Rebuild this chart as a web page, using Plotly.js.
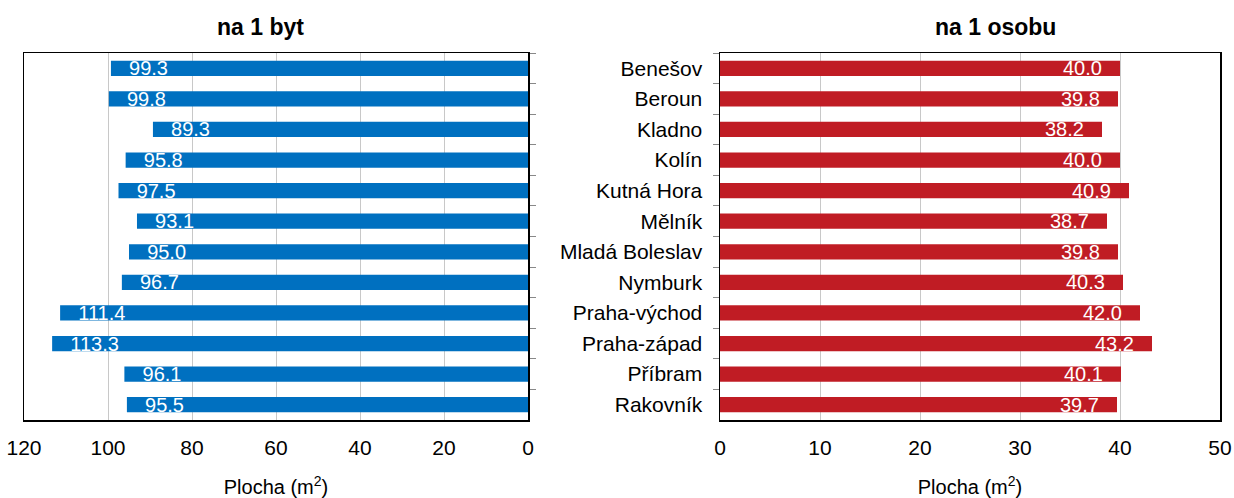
<!DOCTYPE html>
<html><head><meta charset="utf-8">
<script src="https://cdn.plot.ly/plotly-3.0.1.min.js"></script>
<style>body{margin:0;background:#fff}#c{width:1234px;height:498px}</style>
</head><body><div id="c"></div>
<script>
const districts = ["Benešov","Beroun","Kladno","Kolín","Kutná Hora","Mělník","Mladá Boleslav","Nymburk","Praha-východ","Praha-západ","Příbram","Rakovník"];
const perFlat = [99.3,99.8,89.3,95.8,97.5,93.1,95.0,96.7,111.4,113.3,96.1,95.5];
const perPerson = [40.0,39.8,38.2,40.0,40.9,38.7,39.8,40.3,42.0,43.2,40.1,39.7];
const titleLeft = "na 1 byt";
const titleRight = "na 1 osobu";
const axisTitle = "Plocha (m<sup>2</sup>)";

const font = "Liberation Sans, Arial, sans-serif";
const pad = "\u00a0\u00a0\u2009";
const traces = [
  {type:"bar", orientation:"h", y:districts, x:perFlat, xaxis:"x", yaxis:"y",
   marker:{color:"#0070C0"}, width:0.5,
   text:perFlat.map(v=>pad+v.toFixed(1)), textposition:"inside", insidetextanchor:"end",
   textfont:{color:"#fff", size:20, family:font}, constraintext:"none", hoverinfo:"x+y"},
  {type:"bar", orientation:"h", y:districts, x:perPerson, xaxis:"x2", yaxis:"y2",
   marker:{color:"#C01C24"}, width:0.5,
   text:perPerson.map(v=>v.toFixed(1)+pad), textposition:"inside", insidetextanchor:"end",
   textfont:{color:"#fff", size:20, family:font}, constraintext:"none", hoverinfo:"x+y"}
];
const common = {showgrid:true, gridcolor:"#c8c8c8", gridwidth:1, zeroline:false,
  showline:true, linecolor:"#000", linewidth:1.5, mirror:true, ticks:"", ticklabelstandoff:8,
  tickfont:{size:21, color:"#000", family:font}};
const layout = {
  width:1234, height:498, paper_bgcolor:"#fff", plot_bgcolor:"#fff",
  margin:{l:0, r:0, t:53, b:78}, showlegend:false, bargap:0.5,
  font:{family:font, color:"#000"},
  xaxis:Object.assign({}, common, {domain:[24/1234, 528/1234], range:[120,0], dtick:20,
     title:{text:axisTitle, font:{size:20, family:font}, standoff:22}, anchor:"y"}),
  yaxis:{domain:[0,1], side:"right", anchor:"x", type:"category", autorange:"reversed",
     showticklabels:false, ticks:"outside", tickson:"boundaries", ticklen:6, tickcolor:"#888",
     showline:true, linecolor:"#000", linewidth:1.5, mirror:true, showgrid:false},
  xaxis2:Object.assign({}, common, {domain:[720/1234, 1220/1234], range:[0,50], dtick:10,
     title:{text:axisTitle, font:{size:20, family:font}, standoff:22}, anchor:"y2"}),
  yaxis2:{domain:[0,1], anchor:"x2", type:"category", autorange:"reversed",
     ticks:"outside", tickson:"boundaries", ticklen:6, tickcolor:"#888",
     tickfont:{size:21, color:"#000", family:font}, ticklabelstandoff:12,
     showline:true, linecolor:"#000", linewidth:1.5, mirror:true, showgrid:false},
  annotations:[
    {text:"<b>"+titleLeft+"</b>", xref:"paper", yref:"paper", x:260/1234, xanchor:"center", y:1, yshift:26,
     showarrow:false, font:{size:23, family:font}, yanchor:"middle"},
    {text:"<b>"+titleRight+"</b>", xref:"paper", yref:"paper", x:995/1234, xanchor:"center", y:1, yshift:26,
     showarrow:false, font:{size:23, family:font}, yanchor:"middle"}
  ]
};
Plotly.newPlot("c", traces, layout, {displayModeBar:false, staticPlot:true});
</script></body></html>
